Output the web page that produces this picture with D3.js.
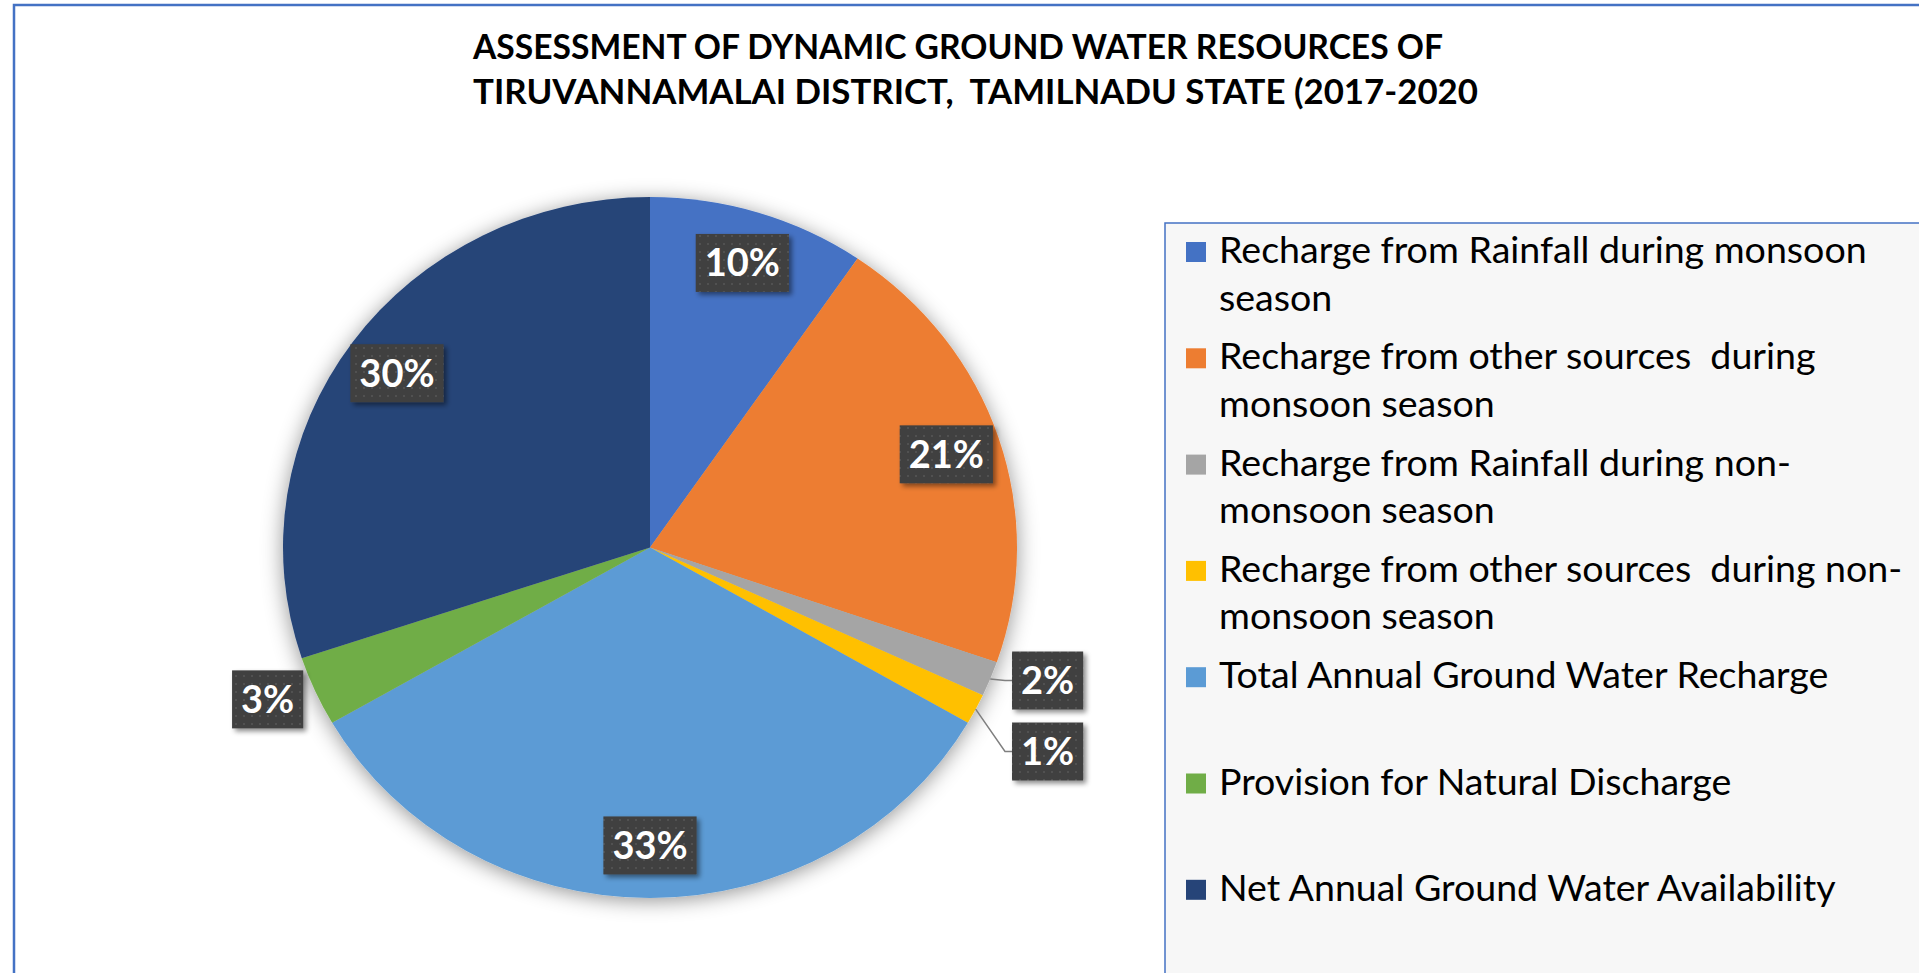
<!DOCTYPE html>
<html>
<head>
<meta charset="utf-8">
<script src="https://cdn.jsdelivr.net/npm/d3@7/dist/d3.min.js"></script>
<style>
body { margin: 0; background: #fff; overflow: hidden; }
text { white-space: pre; }
</style>
</head>
<body>
<svg id="chart" width="1919" height="973"></svg>
<script>
// chart data (shares of the whole pie, in %)
var categories = [
    "Recharge from Rainfall during monsoon season",
    "Recharge from other sources  during monsoon season",
    "Recharge from Rainfall during non-monsoon season",
    "Recharge from other sources  during non-monsoon season",
    "Total Annual Ground Water Recharge",
    "Provision for Natural Discharge",
    "Net Annual Ground Water Availability"
];
// legend wraps the same way as the original
var legend_lines = [
    ["Recharge from Rainfall during monsoon", "season"],
    ["Recharge from other sources  during", "monsoon season"],
    ["Recharge from Rainfall during non-", "monsoon season"],
    ["Recharge from other sources  during non-", "monsoon season"],
    ["Total Annual Ground Water Recharge"],
    ["Provision for Natural Discharge"],
    ["Net Annual Ground Water Availability"]
];
var values = [9.5, 20.6, 1.6, 1.4, 33.1, 3.2, 29.9];
var colors = ["#4472C4", "#ED7D31", "#A5A5A5", "#FFC000", "#5B9BD5", "#70AD47", "#264478"];
var title_lines = [
    "ASSESSMENT OF DYNAMIC GROUND WATER RESOURCES OF",
    "TIRUVANNAMALAI DISTRICT,  TAMILNADU STATE (2017-2020"
];

var svg = d3.select("#chart");
var cx = 650, cy = 547.5, rx = 367, ry = 350.5;
var total = d3.sum(values);

function initialize_defs() {
    var defs = svg.append("defs");

    var glow = defs.append("filter").attr("id", "pie_shadow")
        .attr("x", "-20%").attr("y", "-20%").attr("width", "140%").attr("height", "140%");
    glow.append("feDropShadow")
        .attr("dx", 0).attr("dy", 3).attr("stdDeviation", 10)
        .attr("flood-color", "#000").attr("flood-opacity", 0.42);

    var box = defs.append("filter").attr("id", "box_shadow")
        .attr("x", "-20%").attr("y", "-20%").attr("width", "150%").attr("height", "150%");
    box.append("feDropShadow")
        .attr("dx", 3).attr("dy", 3).attr("stdDeviation", 2.5)
        .attr("flood-color", "#000").attr("flood-opacity", 0.45);

    // small dotted texture of the label boxes
    var pat = defs.append("pattern").attr("id", "dots")
        .attr("width", 8).attr("height", 8).attr("patternUnits", "userSpaceOnUse");
    pat.append("rect").attr("width", 8).attr("height", 8).attr("fill", "#404040");
    pat.append("circle").attr("cx", 4).attr("cy", 4).attr("r", 1.1).attr("fill", "#555555");
}

function initialize_frame() {
    svg.append("rect")
        .attr("x", 14).attr("y", 5)
        .attr("width", 2000).attr("height", 2000)
        .attr("fill", "#fff")
        .attr("stroke", "#4472C4")
        .attr("stroke-width", 2.5);
}

function initialize_titles() {
    // widths of the two lines in the original
    var widths = [970, 1005];
    svg.selectAll(".title").data(title_lines).enter()
        .append("text")
        .attr("class", "title")
        .attr("x", 473)
        .attr("y", function(d, i) { return 59 + i * 45; })
        .attr("font-family", "Lato, sans-serif")
        .attr("font-weight", "bold")
        .attr("font-size", "35px")
        .attr("textLength", function(d, i) { return widths[i]; })
        .attr("lengthAdjust", "spacingAndGlyphs")
        .attr("fill", "#000")
        .text(function(d) { return d; });
}

function draw_pie() {
    var pie = d3.pie().sort(null).value(function(d) { return d; });
    var arcs = pie(values);
    var arc = d3.arc().innerRadius(0).outerRadius(ry);

    // the original pie is slightly wider than tall
    var g = svg.append("g")
        .attr("transform", "translate(" + cx + "," + cy + ") scale(" + (rx / ry) + ",1)");
    g.append("g")
        .attr("filter", "url(#pie_shadow)")
        .selectAll("path")
        .data(arcs).enter()
        .append("path")
        .attr("d", arc)
        .attr("fill", function(d, i) { return colors[i]; });

    // label positions
    arcs.forEach(function(d) {
        var mid = (d.startAngle + d.endAngle) / 2;
        var share = d.value / total;
        d.mid = mid;
        d.inside = share > 0.05;
        d.leader = share <= 0.02;
        d.px = cx + rx * Math.sin(mid);
        d.py = cy - ry * Math.cos(mid);
        var k = d.leader ? 1.15 : 0.85;
        d.lx = cx + rx * k * Math.sin(mid);
        d.ly = cy - ry * k * Math.cos(mid);
        d.text = Math.round(share * 100) + "%";
    });

    // spread the small ones that carry leader lines
    var small = arcs.filter(function(d) { return d.leader; })
        .sort(function(a, b) { return a.ly - b.ly; });
    var gap = 71;
    var mean = d3.mean(small, function(d) { return d.ly; });
    small.forEach(function(d, i) {
        d.ly = mean + (i - (small.length - 1) / 2) * gap;
    });

    var labels = svg.append("g");
    arcs.forEach(function(d) {
        var lg = labels.append("g");
        var rect = lg.append("rect");
        var txt = lg.append("text")
            .attr("font-family", "Lato, sans-serif")
            .attr("font-weight", "bold")
            .attr("font-size", "38px")
            .attr("fill", "#fff")
            .attr("text-anchor", "middle")
            .text(d.text);
        var w = txt.node().getComputedTextLength() + 18;
        var h = 58;
        if (d.leader) {
            d.lx = cx + rx - 5 + w / 2;
        } else if (!d.inside) {
            // outside end, next to the rim
            var side = Math.sin(d.mid) < 0 ? -1 : 1;
            d.lx = d.px + side * (w / 2 + 12);
            d.ly = d.py - Math.cos(d.mid) * 20;
        }
        txt.attr("x", d.lx).attr("y", d.ly + 13.5);
        rect.attr("x", d.lx - w / 2).attr("y", d.ly - h / 2)
            .attr("width", w).attr("height", h)
            .attr("fill", "url(#dots)")
            .attr("filter", "url(#box_shadow)");

        if (d.leader) {
            var bx = d.lx - w / 2;
            labels.insert("polyline", ":first-child")
                .attr("points", [[d.px, d.py], [bx - 7, d.ly], [bx, d.ly]].join(" "))
                .attr("fill", "none")
                .attr("stroke", "#7F7F7F")
                .attr("stroke-width", 1.5);
        }
    });
}

function draw_legend() {
    svg.append("rect")
        .attr("x", 1165).attr("y", 223)
        .attr("width", 800).attr("height", 800)
        .attr("fill", "#F7F7F7")
        .attr("stroke", "#4472C4")
        .attr("stroke-width", 1.5);

    var t = svg.append("text")
        .attr("font-family", "Lato, sans-serif")
        .attr("font-size", "40px")
        .text(legend_lines[0][0]);
    var size = 40 * 648 / t.node().getComputedTextLength();
    t.remove();

    var y0 = 252, step = 106.3;
    var items = svg.selectAll(".legend").data(categories).enter()
        .append("g")
        .attr("class", "legend")
        .attr("transform", function(d, i) { return "translate(1186," + (y0 + i * step) + ")"; });
    items.append("rect")
        .attr("x", 0).attr("y", -10)
        .attr("width", 20).attr("height", 20)
        .attr("fill", function(d, i) { return colors[i]; });
    items.each(function(d, i) {
        d3.select(this).selectAll("text")
            .data(legend_lines[i]).enter()
            .append("text")
            .attr("x", 33)
            .attr("y", function(l, j) { return 11 + j * 47.5; })
            .attr("font-family", "Lato, sans-serif")
            .attr("font-size", size + "px")
            .attr("fill", "#000")
            .text(function(l) { return l; });
    });
}

initialize_defs();
initialize_frame();
initialize_titles();
draw_pie();
draw_legend();
</script>
</body>
</html>
